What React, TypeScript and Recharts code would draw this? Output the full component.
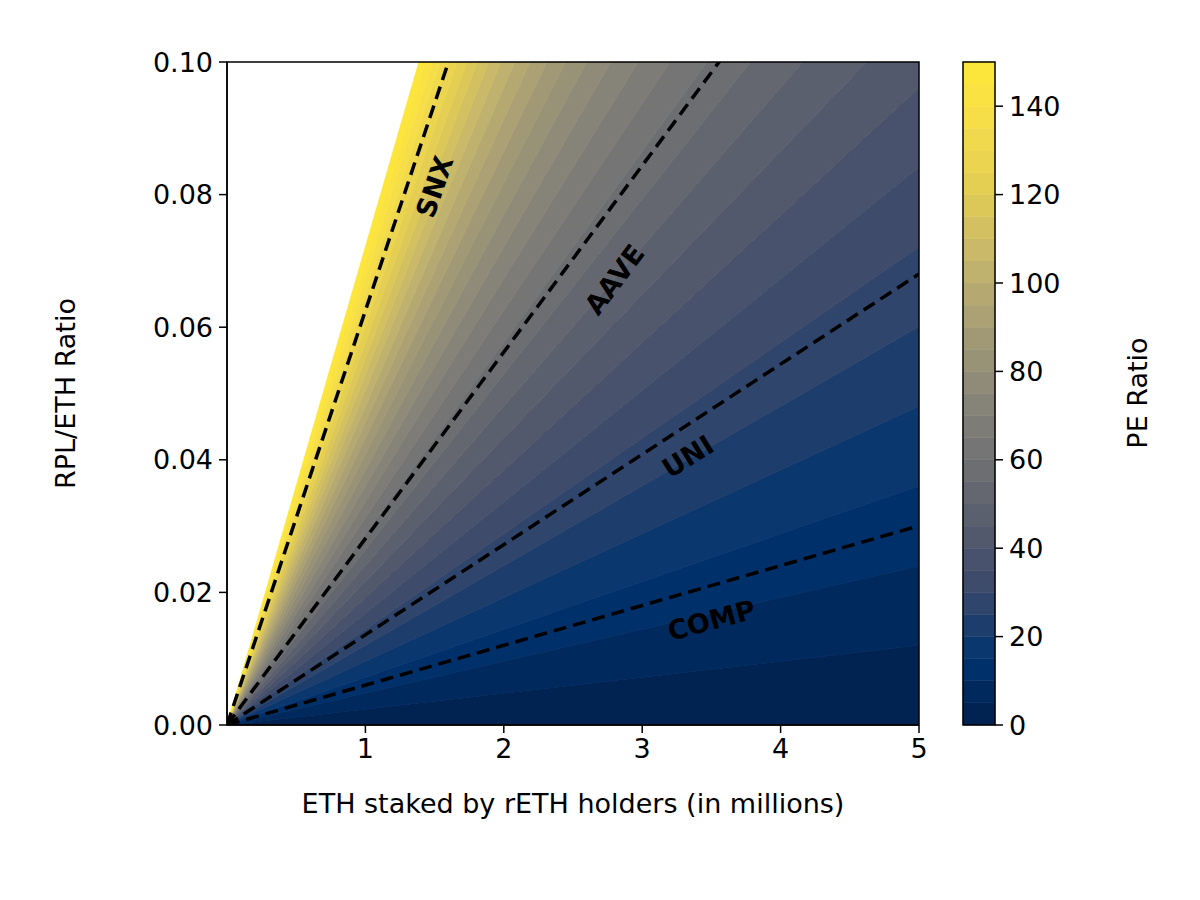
import React from 'react';
import { ComposedChart, Area, Line, XAxis, YAxis, ReferenceDot, BarChart, Bar, Label } from 'recharts';

const K = 2080; // PE = K * ratio / ethStaked
const levelStep = 5;
const levelCount = 30;
const xPoints = [0, 5];
const xTicks = [1, 2, 3, 4, 5];
const yTicks = [0, 0.02, 0.04, 0.06, 0.08, 0.1];
const cbTicks = [0, 20, 40, 60, 80, 100, 120, 140];
const protocols = ['SNX', 'AAVE', 'UNI', 'COMP'];
const protocolPE = [130, 58.5, 28.3, 12.5];
const labelX = [1.5, 2.8, 3.33, 3.5];
const labelY = [0.0812, 0.0672, 0.0405, 0.0158];
const labelAngle = [-71, -53, -32, -15];

const cividis = ['#00204c', '#00336f', '#39486b', '#575c6d', '#707173', '#8a8779', '#a69d75', '#c4b56c', '#e1cc55', '#f3dc4a', '#fee838'];
function hex(h: string) { return [1, 3, 5].map(i => parseInt(h.slice(i, i + 2), 16)); }
function cmap(t: number) {
  const p = Math.max(0, Math.min(1, t)) * 10;
  const i = Math.min(9, Math.floor(p));
  const f = p - i;
  const a = hex(cividis[i]), b = hex(cividis[i + 1]);
  const c = a.map((v, k) => Math.round(v + (b[k] - v) * f));
  return `rgb(${c[0]},${c[1]},${c[2]})`;
}

const levels = Array.from({ length: levelCount }, (_, i) => i);
const data = xPoints.map(x => ({ x }));
const cbData = [{ k: 'cb', ...Object.fromEntries(levels.map(i => ['b' + i, levelStep])) }];

const font = 'DejaVu Sans, sans-serif';
const fs = 27;

export default function App() {
  return (
    <div style={{ position: 'absolute', left: 0, top: 0, width: 1200, height: 900, background: '#fff', fontFamily: font }}>
      <div style={{ position: 'absolute', left: 0, top: 0 }}>
        <ComposedChart width={1200} height={900} data={data} margin={{ top: 62, left: 127, right: 281, bottom: 115 }}>
          <XAxis dataKey="x" type="number" domain={[0, 5]} ticks={xTicks} allowDataOverflow
            tick={{ fill: '#000', fontSize: fs, fontFamily: font }} tickSize={8} tickMargin={6}
            axisLine={{ stroke: '#000', strokeWidth: 1.5 }} tickLine={{ stroke: '#000', strokeWidth: 1.5 }} height={60}>
            <Label value="ETH staked by rETH holders (in millions)" position="insideBottom" offset={-28} fill="#000" fontSize={fs} fontFamily={font} />
          </XAxis>
          <YAxis type="number" domain={[0, 0.1]} ticks={yTicks} allowDataOverflow width={100}
            tickFormatter={(v: number) => v.toFixed(2)}
            tick={{ fill: '#000', fontSize: fs, fontFamily: font }} tickSize={8} tickMargin={6}
            axisLine={{ stroke: '#000', strokeWidth: 1.5 }} tickLine={{ stroke: '#000', strokeWidth: 1.5 }}>
            <Label value="RPL/ETH Ratio" angle={-90} position="insideLeft" offset={-62} fill="#000" fontSize={fs} fontFamily={font} style={{ textAnchor: 'middle' }} />
          </YAxis>
          {levels.map(i => (
            <Area key={'a' + i} type="linear" isAnimationActive={false}
              dataKey={(d: any) => [(i * levelStep / K) * d.x, ((i + 1) * levelStep / K) * d.x]}
              stroke={cmap((i + 0.5) / levelCount)} strokeWidth={0.8} fill={cmap((i + 0.5) / levelCount)} fillOpacity={1} dot={false} activeDot={false} />
          ))}
          {protocols.map((p, j) => (
            <Line key={p} type="linear" isAnimationActive={false} dataKey={(d: any) => (protocolPE[j] / K) * d.x}
              stroke="#000" strokeWidth={3.5} strokeDasharray="13 7" dot={false} activeDot={false} />
          ))}
          {protocols.map((p, j) => (
            <ReferenceDot key={'l' + p} x={labelX[j]} y={labelY[j]} r={0} ifOverflow="visible"
              shape={(props: any) => (
                <text x={props.cx} y={props.cy} transform={`rotate(${labelAngle[j]} ${props.cx} ${props.cy})`}
                  textAnchor="middle" dominantBaseline="central" fontSize={fs} fontWeight="bold" fontFamily={font} fill="#000">{p}</text>
              )} />
          ))}
        </ComposedChart>
        <svg style={{ position: 'absolute', left: 0, top: 0, pointerEvents: 'none' }} width={1200} height={900}>
          <rect x={227} y={62} width={692} height={663} fill="none" stroke="#000" strokeWidth={1.5} />
        </svg>
      </div>
      <div style={{ position: 'absolute', left: 0, top: 0 }}>
        <BarChart width={1100} height={900} data={cbData} margin={{ top: 62, left: 963, right: 45, bottom: 175 }} barCategoryGap={0} barGap={0}>
          <XAxis dataKey="k" type="category" hide />
          <YAxis orientation="right" type="number" domain={[0, 150]} ticks={cbTicks} width={60}
            tick={{ fill: '#000', fontSize: fs, fontFamily: font, textAnchor: 'start' }} tickSize={8} tickMargin={6}
            axisLine={false} tickLine={{ stroke: '#000', strokeWidth: 1.5 }} />
          {levels.map(i => (
            <Bar key={'b' + i} dataKey={'b' + i} stackId="cb" fill={cmap((i + 0.5) / levelCount)} stroke={cmap((i + 0.5) / levelCount)} strokeWidth={0.5} isAnimationActive={false} />
          ))}
        </BarChart>
        <svg style={{ position: 'absolute', left: 0, top: 0, pointerEvents: 'none' }} width={1200} height={900}>
          <rect x={963} y={62} width={32} height={663} fill="none" stroke="#000" strokeWidth={1.5} />
          <text x={1137} y={393} transform="rotate(-90 1137 393)" textAnchor="middle" dominantBaseline="central" fontSize={fs} fontFamily={font} fill="#000">PE Ratio</text>
        </svg>
      </div>
    </div>
  );
}
